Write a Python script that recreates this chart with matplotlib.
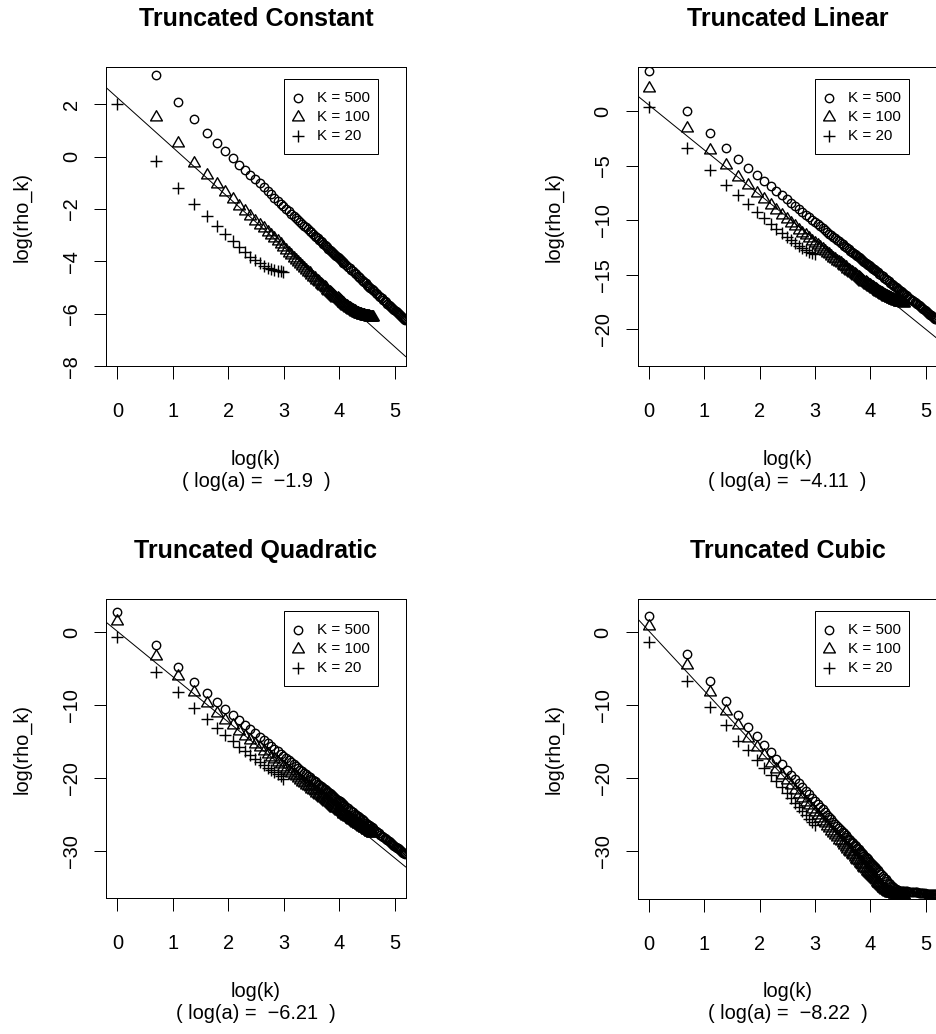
import numpy as np
import matplotlib
matplotlib.use("Agg")
import matplotlib.pyplot as plt
from matplotlib.path import Path
from matplotlib.patches import Rectangle

plt.rcParams['font.family'] = ['Liberation Sans', 'DejaVu Sans']

# ---------------- data ----------------
titles = ["Truncated Constant", "Truncated Linear", "Truncated Quadratic", "Truncated Cubic"]
log_a = ["\u22121.9", "\u22124.11", "\u22126.21", "\u22128.22"]
line_intercept = [2.25, 0.55, 0.09, 0.20]
line_slope = [-1.9, -4.11, -6.21, -8.22]

k20 = list(range(1, 21))
k100 = list(range(1, 101))
k500 = list(range(1, 61)) + list(range(62, 101, 2)) + list(range(103, 179, 3))

const_500 = [5.2, 3.10, 2.07, 1.42, 0.91, 0.51, 0.21, -0.07, -0.32, -0.52,
             -0.70, -0.86, -1.02, -1.17, -1.31, -1.44, -1.56, -1.68, -1.79, -1.90,
             -2.00, -2.09, -2.18, -2.26, -2.34, -2.42, -2.49, -2.57, -2.64, -2.70,
             -2.77, -2.83, -2.89, -2.95, -3.01, -3.06, -3.12, -3.17, -3.22, -3.27,
             -3.32, -3.37, -3.42, -3.46, -3.51, -3.55, -3.59, -3.63, -3.67, -3.71,
             -3.75, -3.79, -3.83, -3.87, -3.90, -3.94, -3.97, -4.01, -4.04, -4.07,
             -4.14, -4.20, -4.26, -4.32, -4.38, -4.44, -4.49, -4.54, -4.59, -4.64,
             -4.69, -4.74, -4.79, -4.83, -4.88, -4.92, -4.96, -5.01, -5.05, -5.09,
             -5.14, -5.20, -5.26, -5.31, -5.36, -5.41, -5.46, -5.51, -5.56, -5.61,
             -5.65, -5.70, -5.74, -5.78, -5.82, -5.86, -5.90, -5.94, -5.98, -6.02,
             -6.05, -6.09, -6.13, -6.16, -6.19, -6.23]
const_100 = [3.65, 1.50, 0.51, -0.25, -0.70, -1.05, -1.36, -1.63, -1.87, -2.08,
             -2.27, -2.44, -2.60, -2.74, -2.87, -2.99, -3.11, -3.23, -3.34, -3.46,
             -3.57, -3.68, -3.77, -3.86, -3.95, -4.03, -4.11, -4.18, -4.26, -4.33,
             -4.39, -4.45, -4.52, -4.58, -4.64, -4.70, -4.75, -4.80, -4.85, -4.89,
             -4.94, -4.99, -5.03, -5.07, -5.11, -5.15, -5.19, -5.23, -5.27, -5.31,
             -5.34, -5.38, -5.41, -5.45, -5.48, -5.51, -5.54, -5.57, -5.60, -5.63,
             -5.66, -5.68, -5.71, -5.73, -5.76, -5.78, -5.80, -5.82, -5.84, -5.86,
             -5.88, -5.90, -5.92, -5.93, -5.95, -5.96, -5.98, -5.99, -6.00, -6.01,
             -6.02, -6.03, -6.04, -6.05, -6.06, -6.06, -6.07, -6.07, -6.08, -6.08,
             -6.09, -6.09, -6.09, -6.10, -6.10, -6.10, -6.10, -6.11, -6.11, -6.11]
const_20 = [2.0, -0.18, -1.18, -1.82, -2.28, -2.64, -2.95, -3.22, -3.45, -3.65,
            -3.82, -3.96, -4.07, -4.16, -4.23, -4.29, -4.33, -4.36, -4.38, -4.39]

lin_500 = [3.66, 0.02, -2.0, -3.37, -4.41, -5.22, -5.86, -6.41, -6.88, -7.33,
           -7.73, -8.09, -8.42, -8.72, -9.00, -9.27, -9.52, -9.75, -9.97, -10.18,
           -10.36, -10.55, -10.73, -10.90, -11.07, -11.23, -11.38, -11.53, -11.67, -11.81,
           -11.95, -12.07, -12.20, -12.32, -12.44, -12.56, -12.67, -12.78, -12.88, -12.98,
           -13.09, -13.18, -13.28, -13.37, -13.47, -13.56, -13.64, -13.73, -13.81, -13.90,
           -13.98, -14.06, -14.13, -14.21, -14.28, -14.36, -14.43, -14.50, -14.57, -14.64,
           -14.77, -14.90, -15.03, -15.15, -15.27, -15.38, -15.50, -15.60, -15.71, -15.81,
           -15.91, -16.01, -16.11, -16.20, -16.29, -16.38, -16.47, -16.56, -16.64, -16.72,
           -16.84, -16.96, -17.08, -17.19, -17.29, -17.40, -17.50, -17.60, -17.70, -17.79,
           -17.89, -17.98, -18.07, -18.15, -18.24, -18.32, -18.41, -18.49, -18.56, -18.64,
           -18.72, -18.79, -18.86, -18.94, -19.01, -19.08]
lin_100 = [2.10, -1.52, -3.53, -4.95, -6.0, -6.78, -7.47, -8.07, -8.6, -9.07,
           -9.49, -9.88, -10.23, -10.56, -10.86, -11.14, -11.40, -11.65, -11.88, -12.10,
           -12.29, -12.47, -12.66, -12.82, -12.99, -13.14, -13.30, -13.43, -13.57, -13.71,
           -13.84, -13.96, -14.09, -14.20, -14.31, -14.43, -14.53, -14.63, -14.73, -14.83,
           -14.92, -15.02, -15.11, -15.20, -15.29, -15.37, -15.46, -15.54, -15.62, -15.69,
           -15.76, -15.83, -15.90, -15.97, -16.04, -16.10, -16.16, -16.22, -16.28, -16.34,
           -16.39, -16.45, -16.50, -16.55, -16.60, -16.65, -16.70, -16.74, -16.79, -16.83,
           -16.87, -16.91, -16.95, -16.99, -17.03, -17.06, -17.10, -17.13, -17.16, -17.19,
           -17.22, -17.25, -17.28, -17.30, -17.33, -17.35, -17.37, -17.39, -17.41, -17.43,
           -17.45, -17.46, -17.48, -17.49, -17.50, -17.51, -17.52, -17.53, -17.54, -17.55]
lin_20 = [0.40, -3.42, -5.40, -6.78, -7.69, -8.55, -9.22, -9.83, -10.33, -10.78,
          -11.18, -11.53, -11.84, -12.12, -12.37, -12.58, -12.76, -12.90, -13.00, -13.08]

quad_500 = [2.79, -1.79, -4.76, -6.82, -8.33, -9.57, -10.58, -11.35, -12.09, -12.74,
            -13.33, -13.86, -14.35, -14.81, -15.23, -15.63, -16.00, -16.35, -16.68, -17.00,
            -17.30, -17.59, -17.86, -18.12, -18.37, -18.62, -18.85, -19.07, -19.29, -19.50,
            -19.70, -19.89, -20.08, -20.27, -20.44, -20.62, -20.79, -20.95, -21.11, -21.27,
            -21.42, -21.57, -21.71, -21.85, -21.99, -22.12, -22.26, -22.39, -22.51, -22.64,
            -22.76, -22.88, -23.00, -23.11, -23.22, -23.33, -23.44, -23.55, -23.65, -23.76,
            -23.96, -24.16, -24.35, -24.53, -24.71, -24.88, -25.05, -25.21, -25.37, -25.53,
            -25.68, -25.83, -25.97, -26.11, -26.25, -26.39, -26.52, -26.65, -26.78, -26.90,
            -27.08, -27.26, -27.43, -27.60, -27.76, -27.92, -28.07, -28.22, -28.37, -28.51,
            -28.65, -28.79, -28.93, -29.06, -29.19, -29.31, -29.43, -29.56, -29.67, -29.79,
            -29.91, -30.02, -30.13, -30.24, -30.34, -30.45]
quad_100 = [1.56, -3.25, -6.04, -8.2, -9.71, -11.04, -12.03, -12.8, -13.54, -14.19,
            -14.78, -15.31, -15.80, -16.26, -16.68, -17.08, -17.45, -17.80, -18.13, -18.45,
            -18.73, -19.01, -19.28, -19.55, -19.80, -20.04, -20.28, -20.50, -20.71, -20.92,
            -21.12, -21.31, -21.50, -21.67, -21.85, -22.02, -22.18, -22.34, -22.49, -22.64,
            -22.79, -22.94, -23.08, -23.21, -23.35, -23.47, -23.60, -23.72, -23.84, -23.96,
            -24.07, -24.18, -24.29, -24.40, -24.50, -24.60, -24.70, -24.80, -24.89, -24.98,
            -25.07, -25.16, -25.25, -25.34, -25.42, -25.50, -25.58, -25.66, -25.74, -25.82,
            -25.90, -25.97, -26.04, -26.11, -26.18, -26.25, -26.31, -26.38, -26.44, -26.51,
            -26.57, -26.63, -26.70, -26.76, -26.82, -26.88, -26.93, -26.99, -27.04, -27.10,
            -27.15, -27.20, -27.25, -27.30, -27.35, -27.40, -27.44, -27.48, -27.52, -27.56]
quad_20 = [-0.73, -5.45, -8.24, -10.35, -11.86, -13.1, -14.1, -14.95, -15.7, -16.35,
           -16.9, -17.4, -17.85, -18.25, -18.6, -18.92, -19.22, -19.5, -19.8, -20.1]

cub_500 = [2.24, -3.02, -6.69, -9.39, -11.36, -12.97, -14.24, -15.48, -16.47, -17.36,
           -18.16, -18.89, -19.56, -20.18, -20.76, -21.31, -21.81, -22.29, -22.75, -23.18,
           -23.59, -23.98, -24.35, -24.71, -25.06, -25.38, -25.70, -26.01, -26.30, -26.59,
           -26.86, -27.13, -27.39, -27.64, -27.88, -28.12, -28.35, -28.57, -28.79, -29.00,
           -29.21, -29.41, -29.61, -29.80, -29.99, -30.18, -30.36, -30.53, -30.71, -30.88,
           -31.04, -31.21, -31.37, -31.52, -31.68, -31.83, -31.98, -32.12, -32.27, -32.41,
           -32.68, -32.95, -33.21, -33.46, -33.70, -33.94, -34.17, -34.39, -34.61, -34.82,
           -35.00, -35.20, -35.30, -35.40, -35.45, -35.50, -35.50, -35.55, -35.55, -35.60,
           -35.60, -35.62, -35.64, -35.66, -35.68, -35.70, -35.72, -35.74, -35.76, -35.78,
           -35.80, -35.82, -35.84, -35.86, -35.88, -35.90, -35.91, -35.92, -35.94, -35.95,
           -35.96, -35.97, -35.98, -35.99, -36.00, -36.00]
cub_100 = [0.87, -4.49, -8.15, -10.77, -12.73, -14.5, -15.8, -16.9, -17.9, -18.8,
           -19.6, -20.35, -21.0, -21.65, -22.25, -22.8, -23.3, -23.8, -24.25, -24.7,
           -25.1, -25.5, -25.9, -26.25, -26.6, -26.95, -27.3, -27.6, -27.9, -28.2,
           -28.5, -28.75, -29.0, -29.25, -29.5, -29.75, -30.0, -30.2, -30.45, -30.65,
           -30.85, -31.1, -31.3, -31.45, -31.7, -31.85, -32.05, -32.2, -32.45, -32.6,
           -32.75, -32.9, -33.05, -33.2, -33.35, -33.5, -33.65, -33.8, -33.95, -34.1,
           -34.25, -34.4, -34.5, -34.65, -34.75, -34.9, -35.0, -35.1, -35.2, -35.3,
           -35.4, -35.45, -35.55, -35.6, -35.65, -35.7, -35.75, -35.8, -35.82, -35.85,
           -35.87, -35.89, -35.9, -35.92, -35.94, -35.95, -35.96, -35.97, -35.98, -35.99,
           -36.0, -36.0, -36.01, -36.02, -36.03, -36.04, -36.05, -36.06, -36.07, -36.08]
cub_20 = [-1.29, -6.69, -10.2, -12.8, -14.9, -16.2, -17.5, -18.6, -19.6, -20.5,
          -21.3, -22.05, -22.75, -23.4, -24.0, -24.6, -25.1, -25.6, -26.05, -26.5]

series_500 = [const_500, lin_500, quad_500, cub_500]
series_100 = [const_100, lin_100, quad_100, cub_100]
series_20 = [const_20, lin_20, quad_20, cub_20]
legend_labels = ["K = 500", "K = 100", "K = 20"]

y_limits = [(-8.0, 3.41), (-23.38, 4.0), (-36.5, 4.53), (-36.6, 4.58)]
y_ticks = [[-8, -6, -4, -2, 0, 2], [-20, -15, -10, -5, 0], [-30, -20, -10, 0], [-30, -20, -10, 0]]
x_limits = (-0.2, 5.2)
x_ticks = [0, 1, 2, 3, 4, 5]

# ---------------- layout (pixels) ----------------
W, H = 936, 1034
DPI = 100
fig = plt.figure(figsize=(W / DPI, H / DPI), dpi=DPI)
fig.patch.set_facecolor("white")

boxes = [(106.3, 67.3, 405.7, 366.3), (637.7, 67.3, 937.0, 366.3),
         (106.3, 599.0, 405.7, 898.3), (637.7, 599.0, 937.0, 898.6)]

# R-like triangle (pch = 2)
tri = Path([(0, 1.555), (-1.347, -0.778), (1.347, -0.778), (0, 1.555)], closed=True)

PX = 72.0 / DPI
MEW = 1.4 * PX
circ_kw = dict(marker='o', ms=8.4 * PX, mfc='none', mec='black', mew=MEW, ls='none')
tri_kw = dict(marker=tri, ms=13.6 * PX, mfc='none', mec='black', mew=MEW, ls='none')
plus_kw = dict(marker='+', ms=12.0 * PX, mfc='none', mec='black', mew=MEW, ls='none')
leg_kws = [circ_kw, tri_kw, plus_kw]

for i in range(4):
    l, t, r, b = boxes[i]
    ax = fig.add_axes([l / W, 1 - b / H, (r - l) / W, (b - t) / H])
    ax.set_xlim(*x_limits)
    ax.set_ylim(*y_limits[i])

    ax.plot(np.log(k500), series_500[i], **circ_kw)
    ax.plot(np.log(k100), series_100[i], **tri_kw)
    ax.plot(np.log(k20), series_20[i], **plus_kw)
    ax.axline((0, line_intercept[i]), slope=line_slope[i], color='black', lw=1.0 * PX)

    ax.set_xticks(x_ticks)
    ax.set_yticks(y_ticks[i])
    ax.set_yticklabels([str(v).replace('-', '\u2212') for v in y_ticks[i]],
                       rotation=90, va='center')
    ax.tick_params(axis='both', direction='out', length=12.5 * PX, width=1.0 * PX,
                   labelsize=14.4, color='black')
    ax.tick_params(axis='x', pad=17)
    ax.tick_params(axis='y', pad=9)
    for s in ax.spines.values():
        s.set_linewidth(1.0 * PX)
        s.set_color('black')

    # legend box drawn in axes coordinates (R style)
    aw, ah = (r - l), (b - t)
    fx = lambda px: (px - l) / aw
    fy = lambda py: 1 - (py - t) / ah
    bx0, bx1 = r - 122.0, r - 28.0
    by0, by1 = t + 12.0, t + 87.0
    ax.add_patch(Rectangle((fx(bx0), fy(by1)), (bx1 - bx0) / aw, (by1 - by0) / ah,
                           transform=ax.transAxes, facecolor='white', edgecolor='black',
                           lw=1.0 * PX, zorder=5, clip_on=False))
    for j in range(3):
        row_y = t + 31.0 + 19.0 * j
        ax.plot([fx(r - 108.0)], [fy(row_y)], transform=ax.transAxes, clip_on=False,
                zorder=6, **leg_kws[j])
        ax.text(fx(r - 88.5), fy(row_y), legend_labels[j], transform=ax.transAxes,
                ha='left', va='center', fontsize=10.9, zorder=6)

    cx = l + 149.7
    fig.text(cx / W, 1 - (t - 41.3) / H, titles[i], ha='center', va='baseline',
             fontsize=18, fontweight='bold')
    fig.text(cx / W, 1 - (b + 98.5) / H, "log(k)", ha='center', va='baseline', fontsize=14.4)
    fig.text(cx / W, 1 - (b + 120.5) / H, "( log(a) =  " + log_a[i] + "  )", ha='center',
             va='baseline', fontsize=14.4)
    fig.text((l - 84) / W, 1 - ((t + b) / 2) / H, "log(rho_k)", rotation=90, ha='center',
             va='center', fontsize=14.4)

fig.savefig("out.png", dpi=DPI, facecolor='white')
